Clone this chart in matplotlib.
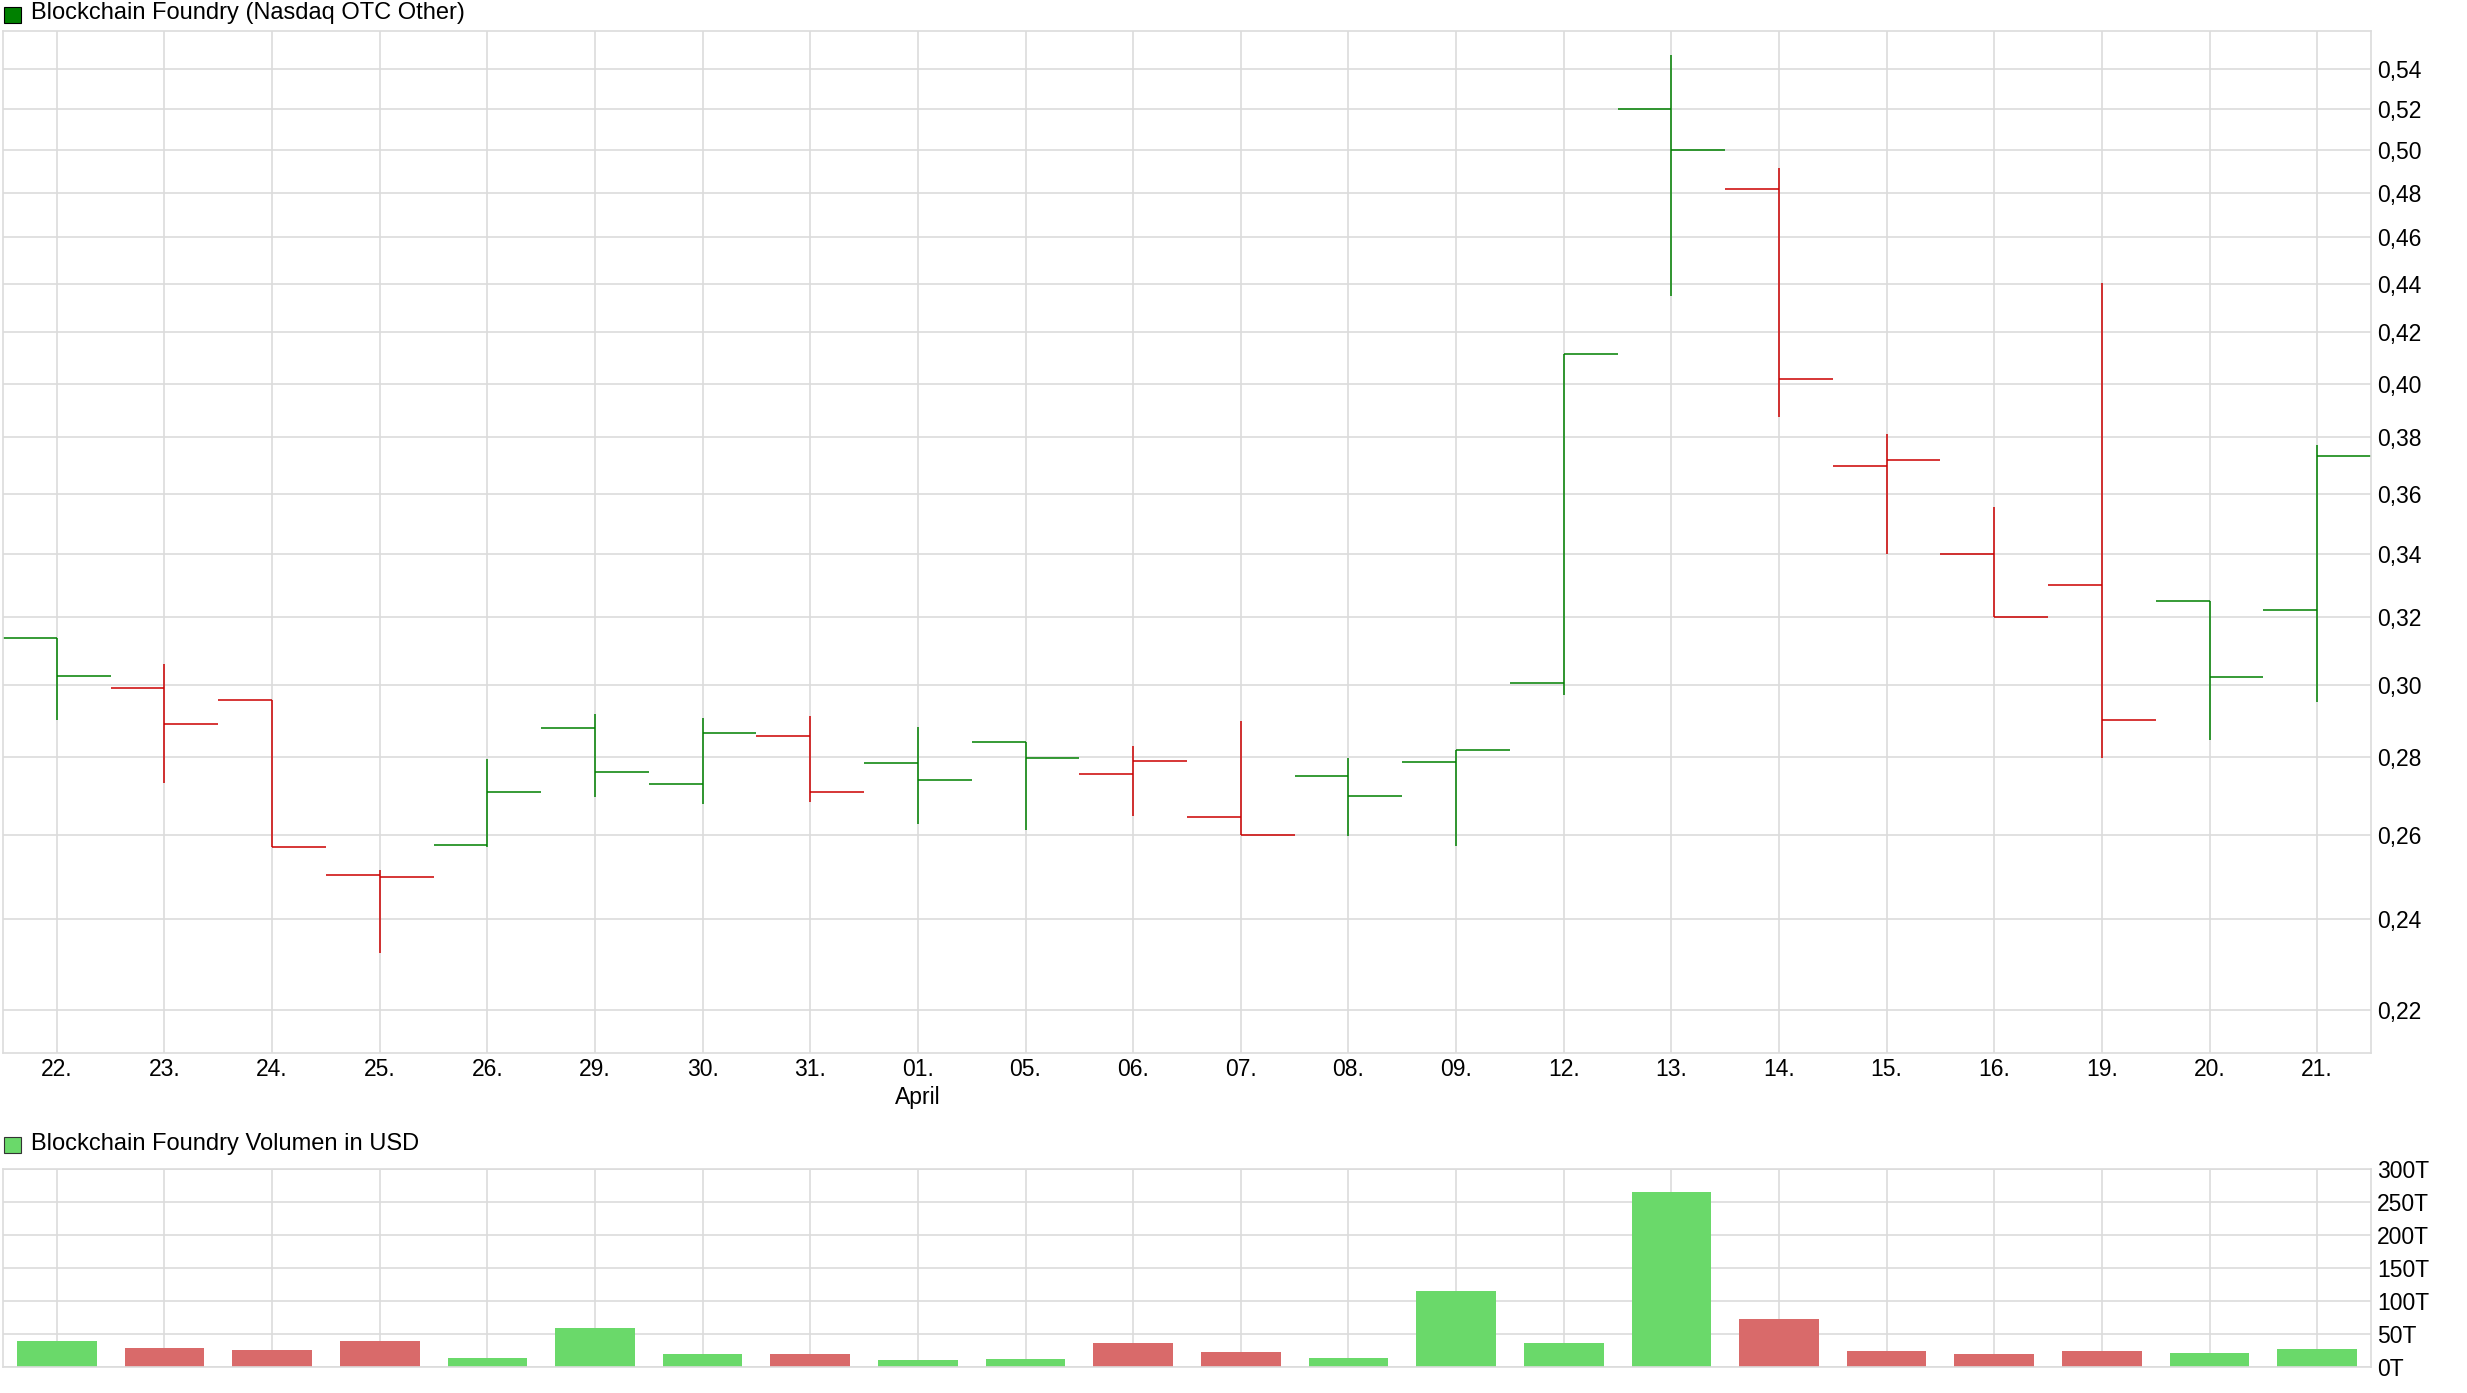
import matplotlib
matplotlib.use("Agg")
import matplotlib.pyplot as plt
from matplotlib.patches import Rectangle
from matplotlib.ticker import FixedLocator, FuncFormatter

# daily OHLC, Nasdaq OTC Other
days = ["22.", "23.", "24.", "25.", "26.", "29.", "30.", "31.", "01.\nApril", "05.", "06.",
        "07.", "08.", "09.", "12.", "13.", "14.", "15.", "16.", "19.", "20.", "21."]
opens = [0.3136, 0.2990, 0.2956, 0.2501, 0.2574, 0.2878, 0.2729, 0.2856, 0.2784, 0.2840, 0.2756,
         0.2644, 0.2750, 0.2786, 0.3006, 0.5198, 0.4815, 0.3696, 0.3398, 0.3299, 0.3250, 0.3222]
highs = [0.3136, 0.3061, 0.2956, 0.2515, 0.2796, 0.2919, 0.2907, 0.2913, 0.2882, 0.2840, 0.2830,
         0.2899, 0.2799, 0.2818, 0.4114, 0.5474, 0.4913, 0.3812, 0.3555, 0.4404, 0.3250, 0.3772]
lows = [0.2900, 0.2732, 0.2569, 0.2323, 0.2571, 0.2696, 0.2677, 0.2683, 0.2627, 0.2612, 0.2647,
        0.2599, 0.2598, 0.2572, 0.2971, 0.4347, 0.3873, 0.3398, 0.3200, 0.2799, 0.2846, 0.2950]
closes = [0.3027, 0.2889, 0.2569, 0.2497, 0.2708, 0.2760, 0.2866, 0.2708, 0.2739, 0.2799, 0.2789,
          0.2599, 0.2697, 0.2818, 0.4114, 0.4998, 0.4017, 0.3718, 0.3200, 0.2900, 0.3022, 0.3733]
# volume in thousand USD ("T")
volumes = [38.8, 28.2, 25.2, 38.8, 13.1, 58.4, 19.1, 19.1, 10.1, 11.6, 35.8,
           22.2, 13.1, 114.3, 35.8, 265.4, 72.0, 23.7, 19.1, 23.7, 20.6, 26.7]

price_ticks = [0.22, 0.24, 0.26, 0.28, 0.30, 0.32, 0.34, 0.36, 0.38, 0.40,
               0.42, 0.44, 0.46, 0.48, 0.50, 0.52, 0.54]
volume_ticks = [0, 50, 100, 150, 200, 250, 300]

UP = "#008000"
DOWN = "#cc0000"
UP_VOL = "#6ad96a"
DOWN_VOL = "#d96a6a"
GRID = "#dcdcdc"

plt.rcParams["font.family"] = ["Liberation Sans", "DejaVu Sans"]

x = list(range(len(days)))
up = [True] + [closes[i] >= closes[i - 1] for i in range(1, len(closes))]
colors = [UP if u else DOWN for u in up]
vol_colors = [UP_VOL if u else DOWN_VOL for u in up]

fig = plt.figure(figsize=(24.67, 13.93), dpi=100)
ax = fig.add_axes([0.0012, 0.2444, 0.9599, 0.7333])
axv = fig.add_axes([0.0012, 0.0189, 0.9599, 0.1419])

# OHLC bars
ax.vlines(x, lows, highs, colors=colors, linewidth=1.1)
ax.hlines(opens, [i - 0.5 for i in x], x, colors=colors, linewidth=1.1)
ax.hlines(closes, x, [i + 0.5 for i in x], colors=colors, linewidth=1.1)

ax.set_yscale("log")
ax.set_ylim(0.2112, 0.560)
ax.set_xlim(-0.5, len(days) - 0.5)
ax.yaxis.set_major_locator(FixedLocator(price_ticks))
ax.yaxis.set_minor_locator(FixedLocator([]))
ax.yaxis.set_major_formatter(FuncFormatter(lambda v, p: f"{v:.2f}".replace(".", ",")))
ax.set_xticks(x)
ax.set_xticklabels(days, linespacing=1.25)

# volume bars
axv.bar(x, volumes, width=0.74, color=vol_colors)
axv.set_xlim(-0.5, len(days) - 0.5)
axv.set_ylim(0, 300)
axv.set_yticks(volume_ticks)
axv.set_yticklabels([f"{v}T" for v in volume_ticks])
axv.set_xticks(x)
axv.set_xticklabels([])

for a in (ax, axv):
    a.set_axisbelow(True)
    a.grid(True, color=GRID, linewidth=1.2)
    a.yaxis.tick_right()
    a.tick_params(axis="both", length=0, labelsize=16.5, colors="black")
    a.tick_params(axis="y", pad=4.5)
    a.tick_params(axis="x", pad=4)
    for s in a.spines.values():
        s.set_color(GRID)
        s.set_linewidth(1.2)

# legend-style captions
fig.patches.append(Rectangle((3.5 / 2467, 1 - 23 / 1393), 17 / 2467, 16 / 1393,
                             transform=fig.transFigure, facecolor=UP, edgecolor="black",
                             linewidth=0.8))
fig.text(31 / 2467, 1 - 13 / 1393, "Blockchain Foundry (Nasdaq OTC Other)",
         fontsize=17, va="center", ha="left")
fig.patches.append(Rectangle((3.5 / 2467, 1 - 1153 / 1393), 17 / 2467, 16 / 1393,
                             transform=fig.transFigure, facecolor=UP_VOL, edgecolor="#333333",
                             linewidth=0.8))
fig.text(31 / 2467, 1 - 1144 / 1393, "Blockchain Foundry Volumen in USD",
         fontsize=17, va="center", ha="left")

fig.savefig("out.png", dpi=100)
